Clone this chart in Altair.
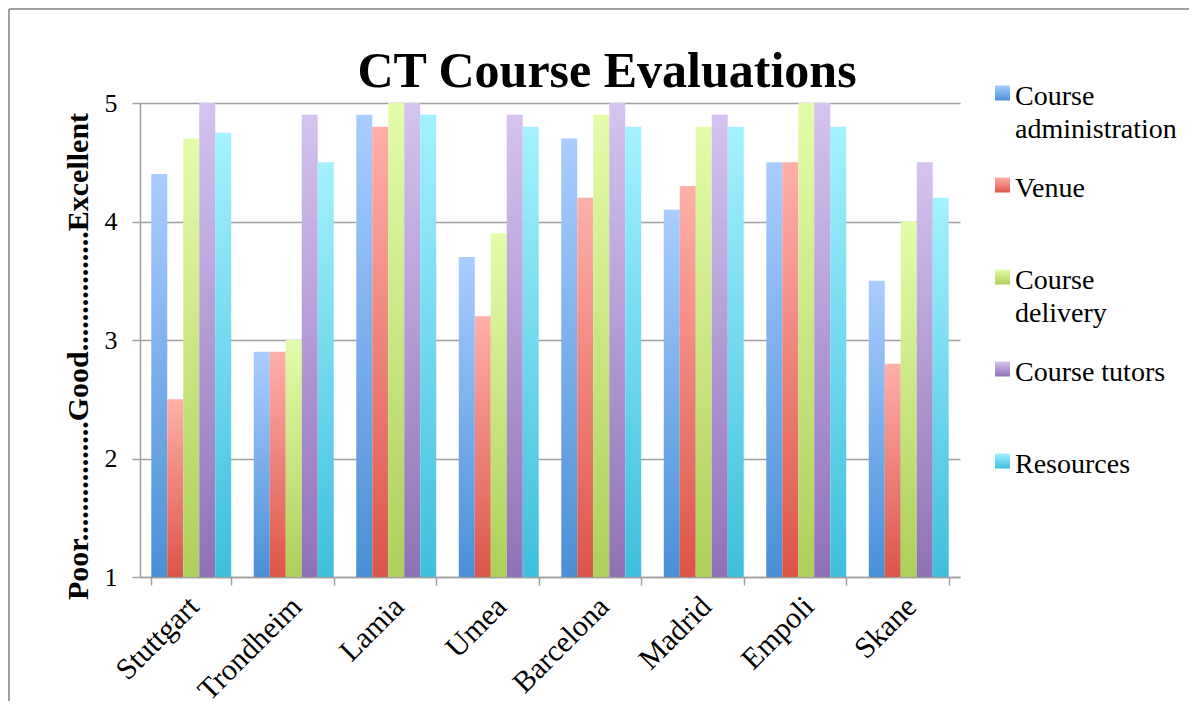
import altair as alt
import pandas as pd

cities = ["Stuttgart", "Trondheim", "Lamia", "Umea", "Barcelona", "Madrid", "Empoli", "Skane"]
series = ["Course administration", "Venue", "Course delivery", "Course tutors", "Resources"]
legend_labels = ["Course\nadministration", "Venue", "Course\ndelivery", "Course tutors", "Resources"]

admin = [4.4, 2.9, 4.9, 3.7, 4.7, 4.1, 4.5, 3.5]
venue = [2.5, 2.9, 4.8, 3.2, 4.2, 4.3, 4.5, 2.8]
delivery = [4.7, 3.0, 5.0, 3.9, 4.9, 4.8, 5.0, 4.0]
tutors = [5.0, 4.9, 5.0, 4.9, 5.0, 4.9, 5.0, 4.5]
resources = [4.75, 4.5, 4.9, 4.8, 4.8, 4.8, 4.8, 4.2]

y_ticks = [1, 2, 3, 4, 5]
top_colors = ["#a9cdff", "#ffafa9", "#e4fcab", "#d5c3f0", "#a4f1ff"]
bottom_colors = ["#4a8fd6", "#db5549", "#aecf5a", "#9071b6", "#3ebfdc"]

FONT = "Liberation Serif"
GRAY = "#a0a0a0"

rows = []
for s, vals in zip(series, [admin, venue, delivery, tutors, resources]):
    for c, v in zip(cities, vals):
        rows.append({"city": c, "series": s, "score": v})
df = pd.DataFrame(rows)


def grad(i):
    return alt.Gradient(
        gradient="linear",
        stops=[alt.GradientStop(color=top_colors[i], offset=0),
               alt.GradientStop(color=bottom_colors[i], offset=1)],
        x1=0, x2=0, y1=0, y2=1,
    )


x_enc = alt.X(
    "city:N", sort=cities, title=None,
    scale=alt.Scale(domain=cities, paddingInner=0.22, paddingOuter=0.11),
    axis=alt.Axis(labelAngle=-45, labelFontSize=30, labelFont=FONT, labelColor="black",
                  labelOffset=-8,
                  tickBand="extent", tickSize=8, tickColor=GRAY, tickWidth=1.5,
                  domainColor=GRAY, domainWidth=1.5, grid=False, labelPadding=6),
)
y_title = "Poor" + "." * 16 + "Good" + "." * 16 + "Excellent"
y_enc = alt.Y(
    "score:Q",
    scale=alt.Scale(domain=[1, 5], nice=False, zero=False),
    axis=alt.Axis(values=y_ticks, title=y_title, titleFont=FONT, titleFontSize=30,
                  titleFontWeight="bold", titleColor="black", titleAngle=270,
                  titleX=-53, titleY=253, titleBaseline="alphabetic",
                  labelFontSize=26, labelFont=FONT, labelColor="black", labelPadding=15,
                  tickSize=8, tickColor=GRAY, tickWidth=1.5,
                  domainColor=GRAY, domainWidth=1.5,
                  grid=True, gridColor=GRAY, gridWidth=1.5),
)

bar_layers = [
    alt.Chart(df)
    .transform_filter(alt.datum.series == s)
    .mark_bar(color=grad(i))
    .encode(
        x=x_enc,
        xOffset=alt.XOffset("series:N", scale=alt.Scale(domain=series, paddingInner=0, paddingOuter=0)),
        y=y_enc,
        y2=alt.datum(1),
    )
    for i, s in enumerate(series)
]

main = alt.layer(*bar_layers).properties(
    width=820, height=474,
    title=alt.TitleParams("CT Course Evaluations", font=FONT, fontSize=50, fontWeight="bold",
                          color="black", frame="group", anchor="middle", dx=57,
                          baseline="alphabetic", offset=-47),
)

# legend cell (starts 35px right of the plot area); also carries the outer frame lines
leg_df = pd.DataFrame({"series": series, "label": legend_labels})
ly = alt.Y("series:N", sort=series,
           scale=alt.Scale(type="point", domain=series, range=[-10, 358], padding=0),
           axis=None)
squares = [
    alt.Chart(leg_df)
    .transform_filter(alt.datum.series == s)
    .mark_square(size=225, color=grad(i), opacity=1)
    .encode(x=alt.value(7.5), y=ly)
    for i, s in enumerate(series)
]
texts = alt.Chart(leg_df).mark_text(
    align="left", baseline="alphabetic", dy=12, fontSize=28, font=FONT,
    lineBreak="\n", lineHeight=33, color="black",
).encode(x=alt.value(20), y=ly, text="label:N")

frame_data = alt.Data(values=[{"edge": "frame"}])
top_rule = alt.Chart(frame_data).mark_rule(color=GRAY, strokeWidth=2).encode(
    x=alt.value(-986), x2=alt.value(194), y=alt.value(-94))
left_rule = alt.Chart(frame_data).mark_rule(color=GRAY, strokeWidth=2).encode(
    x=alt.value(-986), y=alt.value(-94), y2=alt.value(598))

legend = alt.layer(*squares, texts, top_rule, left_rule).properties(width=190, height=368)

chart = (
    alt.hconcat(main, legend, spacing=35, bounds="flush")
    .properties(padding=0)
    .configure_view(strokeWidth=0)
)

chart.save("out.html", embed_options={"renderer": "svg", "actions": False})
